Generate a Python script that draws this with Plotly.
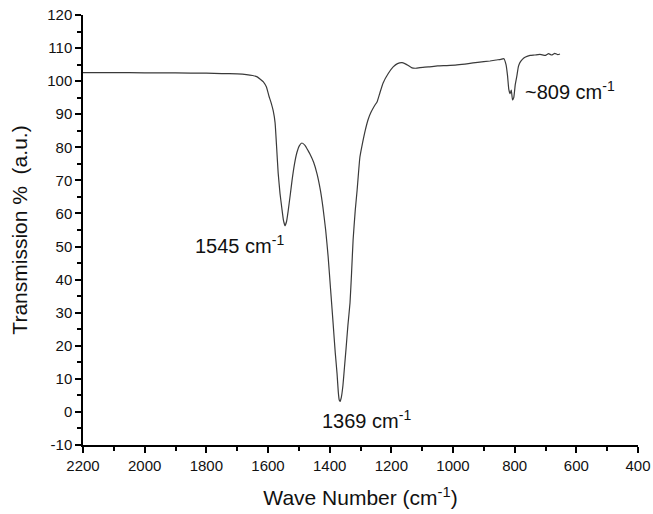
import plotly.graph_objects as go

wavenumber = [2200, 2100, 2000, 1900, 1800, 1750, 1700, 1670, 1650, 1635, 1625, 1615, 1605, 1597,
              1590, 1583, 1577, 1572, 1567, 1561, 1555, 1550, 1545, 1540, 1535, 1528, 1522, 1514,
              1506, 1498, 1490, 1480, 1470, 1464, 1452, 1441, 1430, 1422, 1413, 1405, 1397, 1389,
              1382, 1376, 1372, 1369, 1366, 1362, 1357, 1352, 1347, 1341, 1334, 1329, 1324, 1317,
              1311, 1302, 1293, 1285, 1275, 1266, 1255, 1246, 1237, 1227, 1210, 1194, 1180, 1165,
              1150, 1133, 1120, 1107, 1080, 1050, 1020, 987, 950, 920, 880, 860, 845, 835, 828, 823,
              819, 815, 811, 807, 803, 798, 793, 788, 783, 775, 765, 750, 735, 718, 700, 690, 680,
              670, 660, 653]
transmission = [102.6, 102.6, 102.5, 102.5, 102.4, 102.3, 102.2, 102.0, 101.7, 101.3, 100.6, 99.8,
                98.2, 95.5, 93.5, 91.0, 87.4, 80.0, 72.2, 66.0, 61.5, 58.0, 56.3, 57.5, 60.5, 65.5,
                70.0, 75.0, 78.5, 80.5, 81.3, 80.6, 79.0, 78.0, 75.5, 72.0, 67.0, 62.0, 55.0, 47.0,
                37.0, 27.0, 18.0, 11.5, 6.0, 3.6, 3.2, 4.5, 8.0, 13.5, 19.0, 26.0, 33.0, 42.0, 52.0,
                61.0, 67.0, 77.0, 81.5, 85.0, 88.5, 90.6, 92.5, 93.8, 96.5, 99.4, 102.3, 104.3, 105.3,
                105.6, 105.0, 104.0, 103.9, 104.1, 104.3, 104.6, 104.7, 104.9, 105.3, 105.7, 106.1,
                106.4, 106.6, 106.8, 105.0, 101.5, 97.5, 96.2, 97.3, 94.3, 95.0, 99.0, 101.5, 104.4,
                105.6, 106.6, 107.3, 107.8, 107.9, 108.1, 107.8, 108.3, 107.9, 108.4, 108.0, 108.2]

x_ticks = [2200, 2000, 1800, 1600, 1400, 1200, 1000, 800, 600, 400]
y_ticks = [-10, 0, 10, 20, 30, 40, 50, 60, 70, 80, 90, 100, 110, 120]

peak_labels = ["1545 cm<sup>-1</sup>", "1369 cm<sup>-1</sup>", "~809 cm<sup>-1</sup>"]
peak_label_x = [1691, 1279, 620]
peak_label_y = [50.5, -2.4, 97.3]

FONT = "Liberation Sans, Arial, sans-serif"

fig = go.Figure()
fig.add_trace(go.Scatter(
    x=wavenumber, y=transmission, mode="lines",
    line=dict(color="#3a3a3a", width=1.2, shape="spline", smoothing=0.4),
    showlegend=False, hoverinfo="skip"))

for t, x, y in zip(peak_labels, peak_label_x, peak_label_y):
    fig.add_annotation(x=x, y=y, text=t, showarrow=False,
                       font=dict(family=FONT, size=20, color="#111111"))

axis_common = dict(
    showgrid=False, zeroline=False, showline=True, linecolor="black", linewidth=1.5,
    ticks="outside", ticklen=6, tickwidth=1.5, tickcolor="black",
    tickfont=dict(family=FONT, size=15, color="#111111"),
    mirror=False, automargin=False, ticklabeloverflow="allow",
)

fig.update_layout(
    width=653, height=514,
    margin=dict(l=83, r=15, t=15, b=69),
    plot_bgcolor="white", paper_bgcolor="white",
    xaxis=dict(range=[2200, 400], tickmode="array", tickvals=x_ticks,
               ticktext=[str(v) for v in x_ticks],
               minor=dict(dtick=100, tick0=400, ticks="outside", ticklen=4, tickwidth=1.5,
                          tickcolor="black"),
               title=dict(text="Wave Number (cm<sup>-1</sup>)",
                          font=dict(family=FONT, size=21, color="#111111"), standoff=18),
               **axis_common),
    yaxis=dict(range=[-10, 120], tickmode="array", tickvals=y_ticks,
               ticktext=[str(v) for v in y_ticks],
               minor=dict(dtick=5, tick0=0, ticks="outside", ticklen=4, tickwidth=1.5,
                          tickcolor="black"),
               title=dict(text="Transmission %  (a.u.)",
                          font=dict(family=FONT, size=21, color="#111111"), standoff=14),
               **axis_common),
)

fig.write_html(
    "out.html",
    config={"displayModeBar": False},
    post_script="document.body.style.margin='0';document.body.style.overflow='hidden';",
)
